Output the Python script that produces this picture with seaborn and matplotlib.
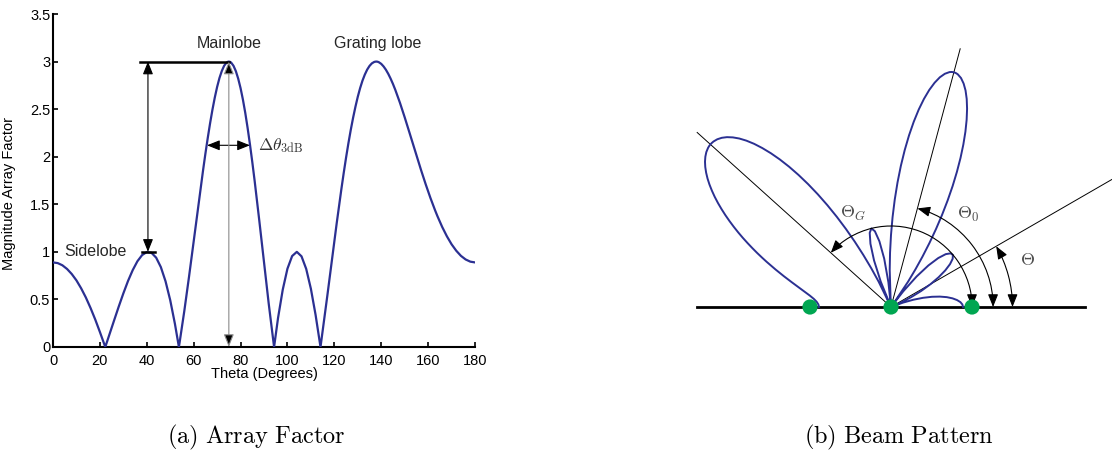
import numpy as np
import matplotlib
matplotlib.use("Agg")
import matplotlib.pyplot as plt
import seaborn as sns
from matplotlib.path import Path
from matplotlib.patches import FancyArrowPatch


# Werte (Betrag Array-Faktor ueber Winkel)
theta_deg = [0, 2, 4, 6, 8, 10, 12, 14, 16, 18, 20, 22, 22.3,
             24, 26, 28, 30, 32, 34, 36, 38, 40, 42, 44, 46, 48, 50, 52, 53.7,
             54, 56, 57, 58, 59, 60, 61, 62, 63, 64, 65, 66, 67, 68, 69, 70, 71, 72, 73, 74, 74.5, 75,
             75.5, 76, 77, 78, 79, 80, 81, 82, 83, 84, 85, 86, 87, 88, 89, 90, 91, 92, 94, 94.3,
             96, 98, 100, 102, 104, 106, 108, 110, 112, 114, 114.1,
             116, 117, 118, 119, 120, 121, 122, 123, 124, 125, 126, 127, 128, 129, 130,
             131, 132, 133, 134, 135, 136, 137, 137.5, 138, 138.5, 139, 140,
             141, 142, 143, 144, 145, 146, 147, 148, 149, 150, 151, 152, 153, 154, 155,
             156, 157, 158, 159, 160, 161, 162, 163, 164, 166, 168, 170, 172, 174, 176, 178, 180]
array_factor = [0.889, 0.882, 0.859, 0.820, 0.767, 0.700, 0.617, 0.521, 0.411, 0.290, 0.158, 0.018, 0.0,
                0.127, 0.275, 0.422, 0.563, 0.694, 0.808, 0.901, 0.966, 0.998, 0.990, 0.939, 0.840, 0.691, 0.492, 0.244, 0.0,
                0.047, 0.377, 0.553, 0.735, 0.922, 1.111, 1.300, 1.489, 1.676, 1.856, 2.031, 2.196, 2.351, 2.493,
                2.621, 2.733, 2.827, 2.901, 2.956, 2.989, 2.997, 3.0,
                2.997, 2.989, 2.955, 2.899, 2.820, 2.721, 2.601, 2.462, 2.304, 2.131, 1.945, 1.748, 1.540,
                1.327, 1.109, 0.889, 0.671, 0.458, 0.052, 0.0,
                0.307, 0.603, 0.823, 0.956, 1.0, 0.953, 0.821, 0.612, 0.338, 0.012, 0.0,
                0.349, 0.537, 0.728, 0.920, 1.111, 1.299, 1.482, 1.659, 1.829, 1.990, 2.141, 2.281, 2.409, 2.525, 2.630,
                2.721, 2.799, 2.863, 2.915, 2.954, 2.981, 2.996, 2.999, 3.0, 2.998, 2.993, 2.976,
                2.949, 2.914, 2.871, 2.821, 2.765, 2.703, 2.636, 2.566, 2.492, 2.415, 2.337, 2.257, 2.177, 2.097, 2.017,
                1.937, 1.859, 1.783, 1.708, 1.636, 1.566, 1.499, 1.435, 1.374, 1.262, 1.164, 1.080, 1.012, 0.958, 0.920, 0.897, 0.889]

# Antennenelemente (Abstand d = lambda)
element_pos = [-1, 0, 1]

x_ticks = [0, 20, 40, 60, 80, 100, 120, 140, 160, 180]
y_ticks = [0, 0.5, 1, 1.5, 2, 2.5, 3, 3.5]
y_ticklabels = ["0", "0.5", "1", "1.5", "2", "2.5", "3", "3.5"]

blue = "#2b3092"
green = "#00a651"

plt.rcParams["font.family"] = ["Liberation Sans", "DejaVu Sans"]
plt.rcParams["mathtext.fontset"] = "cm"

fig = plt.figure(figsize=(11.12, 4.54), dpi=100)

arrow_kw = dict(arrowstyle="<|-|>,head_length=0.7,head_width=0.28",
                shrinkA=0, shrinkB=0, mutation_scale=11, lw=0.8)

# (a) Array Factor
ax1 = fig.add_axes([53 / 1112, 107 / 454, 422 / 1112, 333 / 454])
sns.lineplot(x=theta_deg, y=array_factor, ax=ax1, color=blue, lw=1.6, zorder=3)
ax1.set_xlim(0, 180)
ax1.set_ylim(0, 3.5)
ax1.set_xticks(x_ticks)
ax1.set_yticks(y_ticks)
ax1.set_yticklabels(y_ticklabels)
ax1.tick_params(direction="in", length=3.5, width=1.2, labelsize=10.5, pad=2)
ax1.tick_params(axis="x", pad=5)
sns.despine(ax=ax1)
for s in ["left", "bottom"]:
    ax1.spines[s].set_linewidth(1.5)
ax1.set_xlabel("Theta (Degrees)", fontsize=10.5)
ax1.set_ylabel("Magnitude Array Factor", fontsize=10.5)
ax1.xaxis.set_label_coords(0.5, -0.06)
ax1.yaxis.set_label_coords(-0.088, 0.46)

# Markierungen
ax1.plot([37, 75], [3, 3], color="k", lw=1.8, zorder=4)
ax1.plot([38, 43.5], [1, 1], color="k", lw=1.8, zorder=4)
ax1.annotate("", xy=(40.5, 1), xytext=(40.5, 3), arrowprops=dict(color="k", **arrow_kw))
ax1.annotate("", xy=(75, 0), xytext=(75, 3),
             arrowprops=dict(ec="0.55", fc="k", **arrow_kw), zorder=5)
ax1.annotate("", xy=(65.7, 2.12), xytext=(84, 2.12), arrowprops=dict(color="k", **arrow_kw))
ax1.text(87.5, 2.12, r"$\Delta\theta_{\mathrm{3dB}}$", va="center", fontsize=12.5, color="0.2")
ax1.text(75, 3.195, "Mainlobe", ha="center", va="center", fontsize=11.5, color="0.15")
ax1.text(138.5, 3.195, "Grating lobe", ha="center", va="center", fontsize=11.5, color="0.15")
ax1.text(5, 1.0, "Sidelobe", ha="left", va="center", fontsize=11.5, color="0.15")

# (b) Beam Pattern
ax2 = fig.add_axes([690 / 1112, 124 / 454, 422 / 1112, 330 / 454])
th = np.deg2rad(theta_deg)
af = np.array(array_factor)
sns.lineplot(x=af * np.cos(th), y=af * np.sin(th), ax=ax2, sort=False, estimator=None,
             color=blue, lw=1.4, zorder=3)
ax2.plot([-2.4, 2.4], [0, 0], color="k", lw=2.0, zorder=2)
for ang, length in [(138, 3.22), (75, 3.3), (30, 3.6)]:
    a = np.deg2rad(ang)
    ax2.plot([0, length * np.cos(a)], [0, length * np.sin(a)], color="k", lw=0.7, zorder=2)
sns.scatterplot(x=element_pos, y=[0, 0, 0], ax=ax2, s=120, color=green,
                edgecolor="none", zorder=6)

for ang, r in [(138, 1.0), (75, 1.26), (30, 1.5)]:
    arc = Path.arc(0, ang)
    p = FancyArrowPatch(path=Path(arc.vertices * r, arc.codes), color="k",
                        arrowstyle="<|-|>,head_length=0.7,head_width=0.28",
                        mutation_scale=11, lw=0.8, zorder=4)
    ax2.add_patch(p)

ax2.text(-0.47, 1.16, r"$\Theta_G$", ha="center", va="center", fontsize=13, color="0.3")
ax2.text(0.95, 1.14, r"$\Theta_0$", ha="center", va="center", fontsize=13, color="0.3")
ax2.text(1.69, 0.58, r"$\Theta$", ha="center", va="center", fontsize=13, color="0.3")

ax2.set_xlim(-2.481, 2.728)
ax2.set_ylim(-0.284, 3.79)
ax2.set_aspect("equal")
ax2.axis("off")

# Bildunterschriften
fig.text(256 / 1112, 1 - 437 / 454, r"$\mathrm{(a)\ Array\ Factor}$",
         ha="center", va="center", fontsize=17.5)
fig.text(899 / 1112, 1 - 437 / 454, r"$\mathrm{(b)\ Beam\ Pattern}$",
         ha="center", va="center", fontsize=17.5)

fig.savefig("out.png", dpi=100)
